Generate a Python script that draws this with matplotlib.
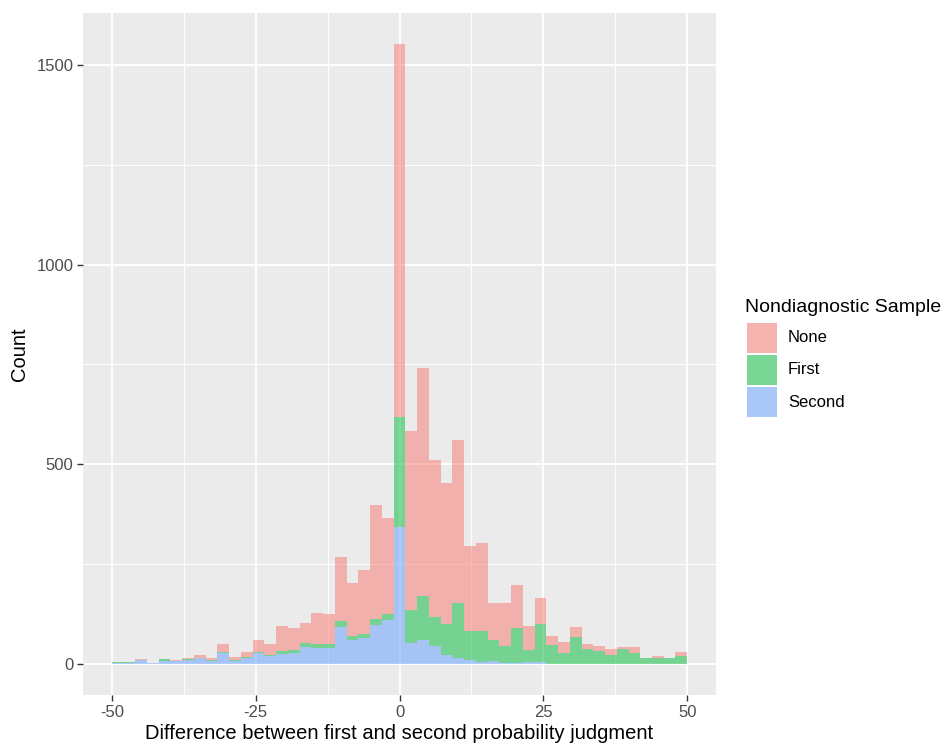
import numpy as np
import matplotlib
matplotlib.use("Agg")
import matplotlib.pyplot as plt
from matplotlib.patches import Rectangle
from matplotlib.ticker import MultipleLocator

plt.rcParams["font.family"] = ["Liberation Sans", "DejaVu Sans"]
plt.rcParams["axes.unicode_minus"] = False

# 49 bins between -50 and 50 (ggplot-style histogram, stacked)
x_min, x_max, n_bins = -50, 50, 49
groups = ["None", "First", "Second"]
colors = ["#F8766D", "#00BA38", "#619CFF"]

second_counts = [2, 2, 10, 2, 8, 7, 10, 14, 7, 28, 7, 14, 27, 20, 25, 28, 42, 40, 40, 93,
                 60, 64, 97, 110, 343, 53, 60, 45, 22, 14, 10, 6, 7, 3, 2, 4, 5, 0, 0, 0,
                 0, 0, 0, 0, 0, 0, 0, 0, 0]
first_counts = [2, 2, 0, 0, 4, 0, 3, 2, 3, 1, 2, 3, 4, 2, 7, 7, 10, 9, 9, 15,
                10, 10, 15, 15, 275, 83, 109, 73, 78, 138, 73, 77, 53, 42, 89, 32, 96, 47, 28, 67,
                37, 32, 22, 37, 28, 14, 14, 14, 20]
none_counts = [1, 1, 2, 0, 0, 3, 2, 6, 5, 21, 9, 12, 29, 27, 62, 55, 50, 79, 75, 160,
               134, 161, 287, 241, 934, 448, 572, 393, 354, 408, 212, 220, 92, 107, 106, 58, 65, 23, 28, 26,
               12, 13, 16, 5, 14, 2, 6, 2, 9]

W, H = 948, 748
fig = plt.figure(figsize=(W / 100, H / 100), dpi=100)
fig.patch.set_facecolor("white")

def fx(px):
    return px / W

def fy(py):
    return 1 - py / H

ax = fig.add_axes([fx(83), fy(695), fx(716) - fx(83), fy(13) - fy(695)])
ax.set_facecolor("#EBEBEB")

edges = np.linspace(x_min, x_max, n_bins + 1)
bw = edges[1] - edges[0]
s = np.array(second_counts)
f = np.array(first_counts)
n = np.array(none_counts)

ax.bar(edges[:-1], s, width=bw, align="edge", color=colors[2], alpha=0.5, linewidth=0)
ax.bar(edges[:-1], f, width=bw, bottom=s, align="edge", color=colors[1], alpha=0.5, linewidth=0)
ax.bar(edges[:-1], n, width=bw, bottom=s + f, align="edge", color=colors[0], alpha=0.5, linewidth=0)

total_max = (s + f + n).max()
ax.set_xlim(x_min - 0.05 * (x_max - x_min), x_max + 0.05 * (x_max - x_min))
ax.set_ylim(-0.05 * total_max, 1.05 * total_max)

ax.set_xticks([-50, -25, 0, 25, 50])
ax.set_yticks([0, 500, 1000, 1500])
ax.xaxis.set_minor_locator(MultipleLocator(12.5))
ax.yaxis.set_minor_locator(MultipleLocator(250))
ax.grid(which="major", color="white", linewidth=1.4)
ax.grid(which="minor", color="white", linewidth=0.7)
ax.set_axisbelow(True)
for sp in ax.spines.values():
    sp.set_visible(False)
ax.tick_params(which="major", length=4, width=1, color="#333333", labelcolor="#4D4D4D",
               labelsize=12, pad=3)
ax.tick_params(which="minor", length=0)

ax.set_xlabel("Difference between first and second probability judgment", fontsize=14.5,
              labelpad=3)
ax.set_ylabel("Count", fontsize=14.5, labelpad=5)

# legend
fig.text(fx(745), fy(307), "Nondiagnostic Sample", fontsize=14, va="center", ha="left")
blend = []
for c in colors:
    rgb = np.array(matplotlib.colors.to_rgb(c))
    blend.append(0.5 * rgb + 0.5 * np.array([242, 242, 242]) / 255)
key_tops = [323, 355, 387]
for top, col, lab in zip(key_tops, blend, groups):
    fig.add_artist(Rectangle((fx(747), fy(top + 30)), fx(30), fy(0) - fy(30),
                             transform=fig.transFigure, facecolor=col, edgecolor="none"))
    fig.text(fx(788), fy(top + 15), lab, fontsize=12, va="center", ha="left")

fig.savefig("out.png", dpi=100)
